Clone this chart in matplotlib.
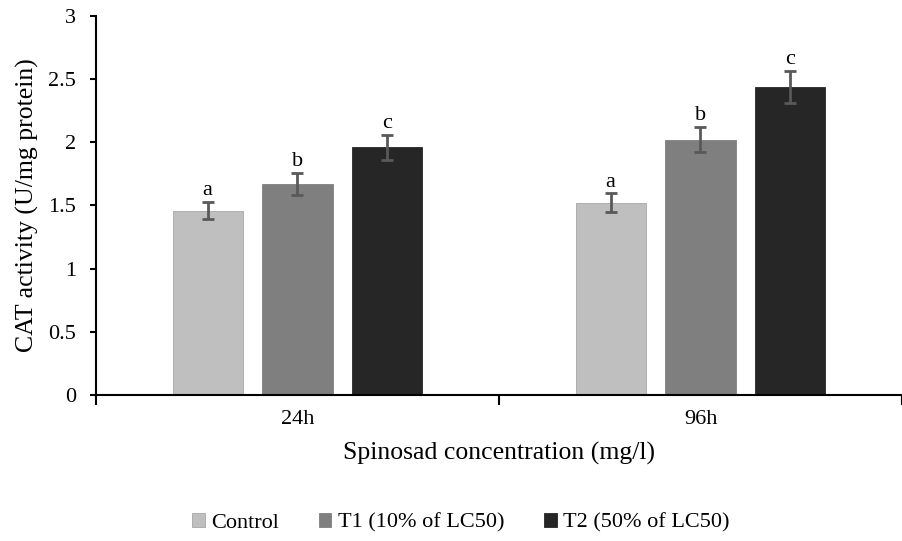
import numpy as np
import matplotlib.pyplot as plt

plt.rcParams['font.family'] = ['Liberation Serif', 'DejaVu Serif']

groups = ['24h', '96h']
series = ['Control', 'T1 (10% of LC50)', 'T2 (50% of LC50)']
values = [[1.46, 1.52],
          [1.67, 2.02],
          [1.96, 2.44]]
errors = [[0.07, 0.075],
          [0.09, 0.10],
          [0.10, 0.125]]
letters = [['a', 'a'], ['b', 'b'], ['c', 'c']]
colors = ['#bfbfbf', '#7f7f7f', '#262626']

fig = plt.figure(figsize=(9.02, 5.41), dpi=100)
ax = fig.add_axes([0.1064, 0.2699, 0.8936, 0.7005])

x = np.arange(len(groups))
w = 0.174
step = 0.223
for i, name in enumerate(series):
    pos = x + (i - 1) * step
    ax.bar(pos, values[i], width=w, color=colors[i], edgecolor='#a6a6a6' if i == 0 else colors[i],
           linewidth=0.6, label=name, zorder=2)
    ax.errorbar(pos, values[i], yerr=errors[i], fmt='none', ecolor='#595959',
                elinewidth=2, capsize=4, capthick=2, zorder=3)
    for p, v, e, t in zip(pos, values[i], errors[i], letters[i]):
        ax.text(p, v + e + 0.015, t, ha='center', va='bottom', fontsize=16)

ax.set_xlim(-0.5, 1.5)
ax.set_ylim(0, 3)
ax.set_yticks(np.arange(0, 3.01, 0.5))
ax.set_yticklabels(['0', '0.5', '1', '1.5', '2', '2.5', '3'])
ax.set_xticks(x)
ax.set_xticklabels(groups)
ax.set_xticks([-0.5, 0.5, 1.5], minor=True)
ax.tick_params(axis='x', which='major', length=0, pad=11, labelsize=16)
ax.tick_params(axis='x', which='minor', length=7, width=1.5, direction='out')
ax.tick_params(axis='y', length=4.5, width=1.5, direction='out', labelsize=16, pad=10)

for s in ['top', 'right']:
    ax.spines[s].set_visible(False)
ax.spines['left'].set_linewidth(1.5)
ax.spines['bottom'].set_linewidth(1.5)

ax.set_ylabel('CAT activity (U/mg protein)', fontsize=18.5, labelpad=6.5)
ax.set_xlabel('Spinosad concentration (mg/l)', fontsize=18.5, labelpad=9)

ax.legend(loc='center', bbox_to_anchor=(0.453, -0.338), ncol=3, frameon=False,
          fontsize=16, handlelength=0.55, handleheight=0.55, handletextpad=0.3,
          columnspacing=1.8)

fig.savefig('out.png', dpi=100)
